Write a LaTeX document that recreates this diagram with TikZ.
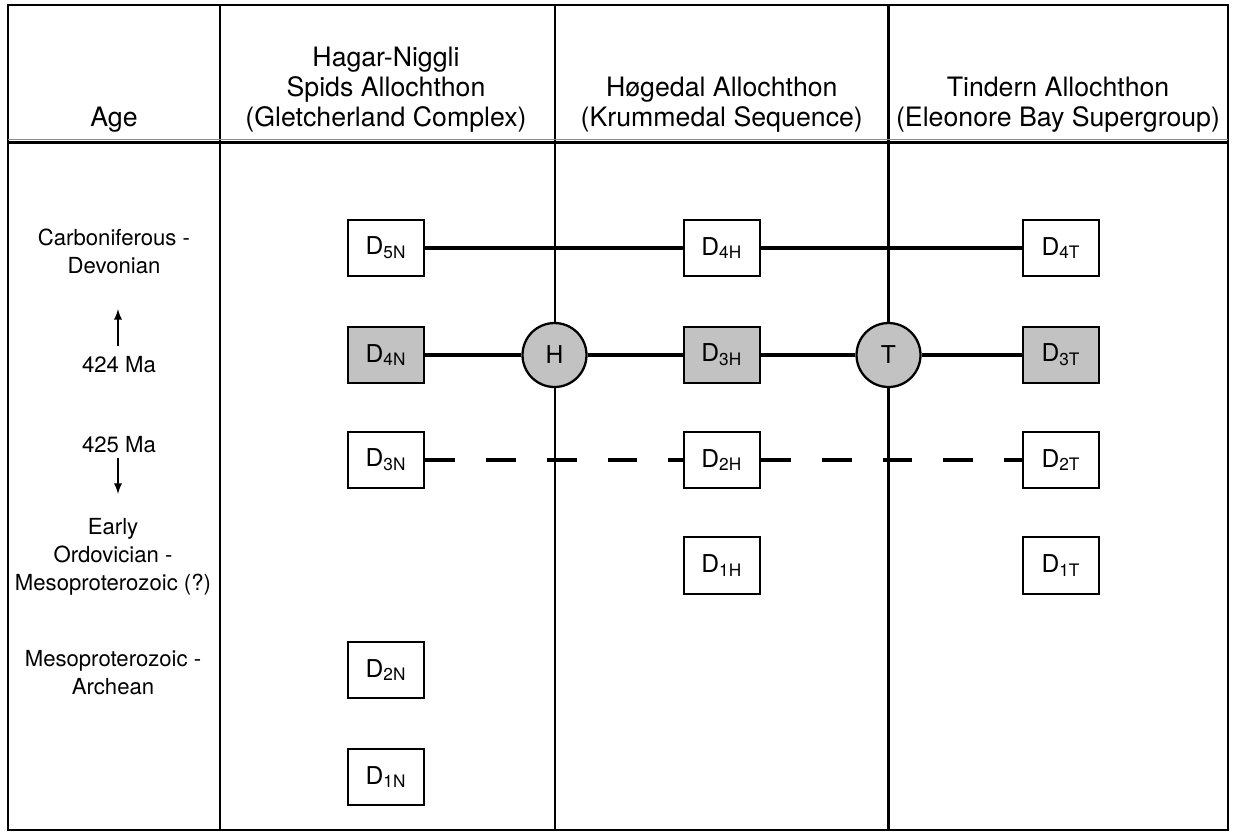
\documentclass[tikz,border=0pt]{standalone}
\usepackage{fontspec}
\setmainfont{TeX Gyre Heros}
\usepackage{tikz}
\usetikzlibrary{positioning,arrows}

\definecolor{shade}{gray}{0.76}

\begin{document}
\begin{tikzpicture}[
				x = 0.02cm, y = -0.02cm,
				dbox/.style = {draw, line width = 1.3pt, fill = white, minimum width = 1.52cm, minimum height = 1.13cm, inner sep = 0pt, font = \fontsize{14}{16}\selectfont},
				dshade/.style = {dbox, fill = shade},
				klippe/.style = {circle, draw, line width = 1.3pt, fill = shade, minimum size = 1.28cm, inner sep = 0pt, font = \fontsize{14}{16}\selectfont},
				head/.style = {align = center, anchor = base, inner sep = 0pt, font = \fontsize{15.2}{17}\selectfont},
				age/.style = {align = center, anchor = base, inner sep = 0pt, font = \fontsize{12.6}{15.7}\selectfont},
				link/.style = {line width = 2.4pt},
				grid/.style = {line width = 1.3pt}
			]

			\useasboundingbox (0,0) rectangle (1233,833);

			% table
			\draw[grid] (8,5) rectangle (1228,830);
			\foreach \cx in {220,555,888.5}
				\draw[grid] (\cx,5) -- (\cx,830);
			\draw[line width = 0.6pt, black!45] (8,139.5) -- (1228,139.5);
			\draw[grid] (8,142.5) -- (1228,142.5);

			% headers (base = last line)
			\node[head] (hAge) at (114,126) {Age};
			\node[head] (hN) at (386,126) {Hagar-Niggli\\Spids Allochthon\\(Gletcherland Complex)};
			\node[head] (hH) at (721.8,126) {Høgedal Allochthon\\(Krummedal Sequence)};
			\node[head] (hT) at (1058,126) {Tindern Allochthon\\(Eleonore Bay Supergroup)};

			% ages
			\node[age] (aCarb) at (114,273) {Carboniferous -\\Devonian};
			\node[age] (a424) at (119,372) {424 Ma};
			\node[age] (a425) at (119,452) {425 Ma};
			\node[age] (aOrd) at (113,590) {Early\\Ordovician -\\Mesoproterozoic (?)};
			\node[age] (aArch) at (113,694) {Mesoproterozoic -\\Archean};
			\coordinate (upTail) at (118,346);
			\coordinate (upTip) at (118,309);
			\coordinate (dnTail) at (118,458);
			\coordinate (dnTip) at (118,494);
			\draw[-latex, line width = 1.1pt] (upTail) -- (upTip);
			\draw[-latex, line width = 1.1pt] (dnTail) -- (dnTip);

			% deformation events
			\node[dbox] (d5N) at (386,248) {D\textsubscript{5N}};
			\node[dshade] (d4N) at (386,355) {D\textsubscript{4N}};
			\node[dbox] (d3N) at (386,460) {D\textsubscript{3N}};
			\node[dbox] (d2N) at (386,670) {D\textsubscript{2N}};
			\node[dbox] (d1N) at (386,777) {D\textsubscript{1N}};

			\node[dbox] (d4H) at (721.8,248) {D\textsubscript{4H}};
			\node[dshade] (d3H) at (721.8,355) {D\textsubscript{3H}};
			\node[dbox] (d2H) at (721.8,460) {D\textsubscript{2H}};
			\node[dbox] (d1H) at (721.8,565.5) {D\textsubscript{1H}};

			\node[dbox] (d4T) at (1061,248) {D\textsubscript{4T}};
			\node[dshade] (d3T) at (1061,355) {D\textsubscript{3T}};
			\node[dbox] (d2T) at (1061,460) {D\textsubscript{2T}};
			\node[dbox] (d1T) at (1061,565.5) {D\textsubscript{1T}};

			\node[klippe] (kH) at (554.5,355) {H};
			\node[klippe] (kT) at (888.5,355) {T};

			% correlations
			\draw[link] (d5N) -- (d4H) -- (d4T);
			\draw[link] (d4N) -- (kH) -- (d3H) -- (kT) -- (d3T);
			\draw[link, dash pattern = on 17pt off 17.6pt] (d3N) -- (d2H);
			\draw[link, dash pattern = on 17pt off 17.6pt] (d2H) -- (d2T);

			\end{tikzpicture}
\end{document}
